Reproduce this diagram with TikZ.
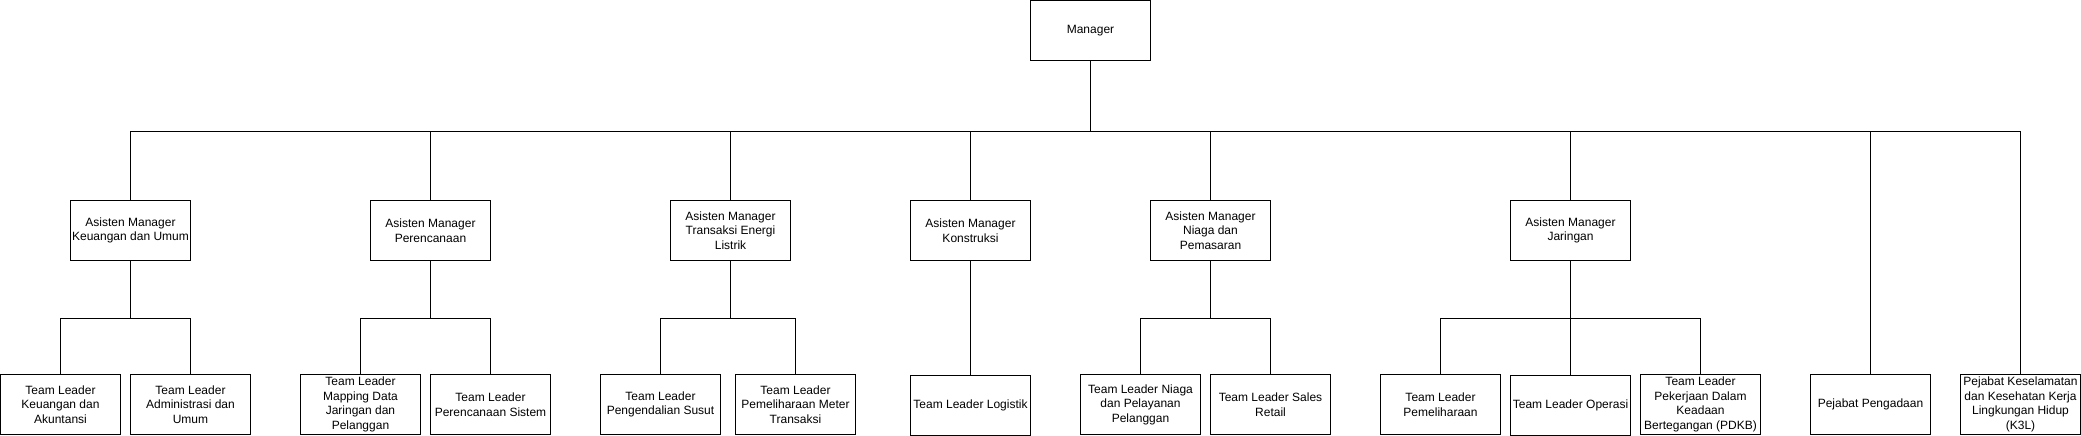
\documentclass[tikz,border=0pt]{standalone}
\usepackage{fontspec}
\setmainfont{Liberation Sans}
\usepackage{tikz}
\usetikzlibrary{positioning}

\begin{document}
\begin{tikzpicture}[
  x=1pt,y=-1pt,
  box/.style={draw=black,line width=1pt,fill=white,minimum width=120pt,minimum height=60pt,inner sep=0pt,align=center,font=\fontsize{12}{14.5}\selectfont},
  link/.style={draw=black,line width=1pt}
]
  \useasboundingbox (0,0) rectangle (2081,436);
  \node[box] (manager) at (1090.5,30.5) {Manager};
  \node[box] (keu) at (130.5,230.5) {Asisten Manager\\Keuangan dan Umum};
  \node[box] (ren) at (430.5,230.5) {Asisten Manager\\Perencanaan};
  \node[box] (trx) at (730.5,230.5) {Asisten Manager\\Transaksi Energi\\Listrik};
  \node[box] (kon) at (970.5,230.5) {Asisten Manager\\Konstruksi};
  \node[box] (niaga) at (1210.5,230.5) {Asisten Manager\\Niaga dan\\Pemasaran};
  \node[box] (jar) at (1570.5,230.5) {Asisten Manager\\Jaringan};
  \node[box] (tlkeu) at (60.5,404.5) {Team Leader\\Keuangan dan\\Akuntansi};
  \node[box] (tladm) at (190.5,404.5) {Team Leader\\Administrasi dan\\Umum};
  \node[box] (tlmap) at (360.5,404.5) {Team Leader\\Mapping Data\\Jaringan dan\\Pelanggan};
  \node[box] (tlsis) at (490.5,404.5) {Team Leader\\Perencanaan Sistem};
  \node[box] (tlsusut) at (660.5,404.5) {Team Leader\\Pengendalian Susut};
  \node[box] (tlmeter) at (795.5,404.5) {Team Leader\\Pemeliharaan Meter\\Transaksi};
  \node[box,below=114pt of kon] (tllog) {Team Leader Logistik};
  \node[box] (tlniaga) at (1140.5,404.5) {Team Leader Niaga\\dan Pelayanan\\Pelanggan};
  \node[box] (tlsales) at (1270.5,404.5) {Team Leader Sales\\Retail};
  \node[box] (tlhar) at (1440.5,404.5) {Team Leader\\Pemeliharaan};
  \node[box,below=114pt of jar] (tlops) {Team Leader Operasi};
  \node[box] (tlpdkb) at (1700.5,404.5) {Team Leader\\Pekerjaan Dalam\\Keadaan\\Bertegangan (PDKB)};
  \node[box] (pengadaan) at (1870.5,404.5) {Pejabat Pengadaan};
  \node[box] (k3l) at (2020.5,404.5) {Pejabat Keselamatan\\dan Kesehatan Kerja\\Lingkungan Hidup\\(K3L)};
  \foreach \c in {keu,ren,trx,kon,niaga,jar,pengadaan,k3l}
    \draw[link] (manager.south) -- ++(0,70) -| (\c.north);
  \foreach \p/\c in {keu/tlkeu,keu/tladm,ren/tlmap,ren/tlsis,trx/tlsusut,trx/tlmeter,kon/tllog,niaga/tlniaga,niaga/tlsales,jar/tlhar,jar/tlops,jar/tlpdkb}
    \draw[link] (\p.south) -- ++(0,57) -| (\c.north);
\end{tikzpicture}
\end{document}
